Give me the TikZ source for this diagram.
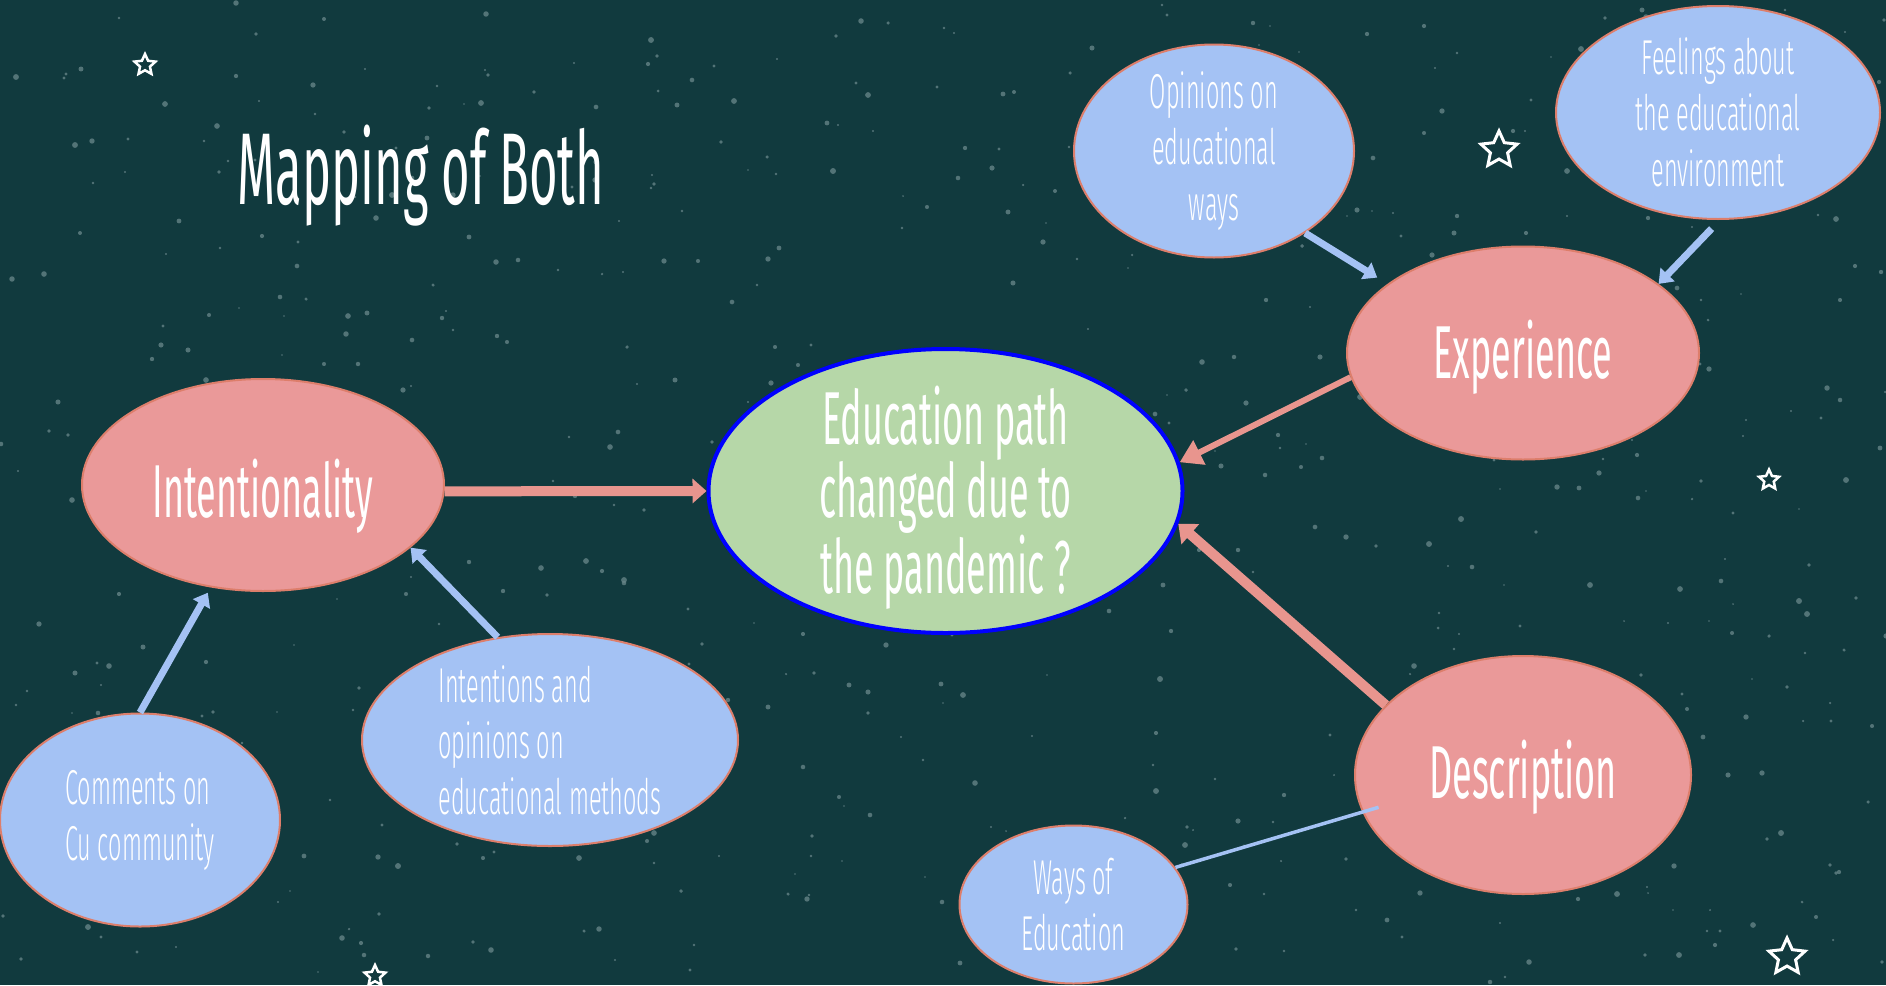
\documentclass[tikz,border=0pt]{standalone}
\usepackage{fontspec}
\newfontfamily\bigfont{Fira Sans}[FakeStretch=0.48]
\newfontfamily\smallfont{Fira Sans Light}[FakeStretch=0.48]
\usetikzlibrary{shapes.geometric,arrows.meta}

\definecolor{bgteal}{HTML}{113A3E}
\definecolor{speckgrey}{HTML}{6A888B}
\definecolor{topicpink}{HTML}{EA9999}
\definecolor{detailblue}{HTML}{A4C2F4}
\definecolor{coregreen}{HTML}{B6D7A8}
\definecolor{rimsalmon}{HTML}{DD7E6B}
\definecolor{linkpink}{HTML}{E8958E}

\tikzset{
  bubble/.style={ellipse, draw=rimsalmon, line width=2pt, inner xsep=0pt, inner ysep=-30pt, text=white, align=center},
  topic/.style={bubble, fill=topicpink, font=\bigfont\fontsize{75}{69}\selectfont},
  detail/.style={bubble, fill=detailblue, font=\smallfont\fontsize{49}{56}\selectfont},
  core/.style={ellipse, fill=coregreen, draw=blue, line width=4pt, inner xsep=0pt, inner ysep=-40pt, text=white, align=center,
    font=\bigfont\fontsize{75}{69}\selectfont},
  twinkle/.style={star, star points=5, star point ratio=2.1, draw=white, line width=2.5pt, inner sep=0pt},
  pinklink/.style={draw=linkpink},
  bluelink/.style={draw=detailblue, line width=7pt, -{Triangle[width=19pt,length=13pt]}},
}

\begin{document}
\begin{tikzpicture}[x=1pt,y=-1pt]
  %% background
  \fill[bgteal] (0,0) rectangle (1886,985);
  \useasboundingbox (0,0) rectangle (1886,985);
  \pgfmathsetseed{11}
  \foreach \i in {1,...,650}{
    \pgfmathsetmacro{\sx}{random(0,1886)}
    \pgfmathsetmacro{\sy}{random(0,985)}
    \pgfmathsetmacro{\sr}{0.8+2.2*rnd}
    \fill[speckgrey, opacity=0.75] (\sx,\sy) circle (\sr pt);
  }

  %% stars
  \node[twinkle, minimum size=22pt] (star1) at (145,65) {};
  \node[twinkle, minimum size=38pt, line width=3pt] (star2) at (1499,150) {};
  \node[twinkle, minimum size=21pt] (star3) at (1769,480) {};
  \node[twinkle, minimum size=38pt, line width=3pt] (star4) at (1787,957) {};
  \node[twinkle, minimum size=22pt] (star5) at (375,976) {};

  %% title
  \node[anchor=base, text=white, font=\bigfont\fontsize{102}{110}\selectfont] (title) at (421,204) {Mapping of Both};

  %% centre
  \node[core, minimum width=474pt, minimum height=284pt] (core) at (945.5,491)
    {\rule{0pt}{72pt}Education path\\changed due to\\the pandemic ?};

  %% topics
  \node[topic, minimum width=362pt, minimum height=212pt] (intent) at (263,485) {\rule{0pt}{80pt}Intentionality};
  \node[topic, minimum width=352pt, minimum height=213pt] (exp) at (1523,353) {\rule{0pt}{66pt}Experience};
  \node[topic, minimum width=336pt, minimum height=238pt] (desc) at (1523,775) {\rule{0pt}{62pt}Description};

  %% details
  \node[detail, minimum width=280pt, minimum height=213pt] (opin) at (1214,151)
    {Opinions on\\educational\\ways};
  \node[detail, minimum width=324pt, minimum height=213pt] (feel) at (1718,112.5)
    {Feelings about\\the educational\\environment};
  \node[detail, minimum width=376pt, minimum height=212pt, align=left] (inten) at (550,740)
    {Intentions and\\opinions on\\educational methods};
  \node[detail, minimum width=280pt, minimum height=213pt, align=left] (comm) at (140,820)
    {Comments on\\Cu community};
  \node[detail, minimum width=228pt, minimum height=158pt] (ways) at (1073.5,904.5)
    {Ways of\\Education};

  %% links
  \draw[pinklink, line width=10pt, -{Triangle[width=24pt,length=14pt]}] (intent.-2) -- (core.west);
  \draw[pinklink, line width=6pt, -{Triangle[width=26pt,length=22pt]}] (exp.188) -- (core.7);
  \draw[pinklink, line width=10pt, -{Triangle[width=26pt,length=16pt]}] (desc.153) -- (core.-8);

  \draw[bluelink, shorten >=12pt] (opin.-42) -- (exp.153);
  \draw[bluelink, shorten <=12pt] (feel.-89) -- (exp.27);
  \draw[bluelink, shorten >=6pt] (comm.90) -- (intent.243);
  \draw[bluelink] (inten.117) -- (intent.-23);
  \draw[draw=detailblue, line width=3.5pt, shorten >=-17pt] (ways.20) -- (desc.193.5);

\end{tikzpicture}
\end{document}
